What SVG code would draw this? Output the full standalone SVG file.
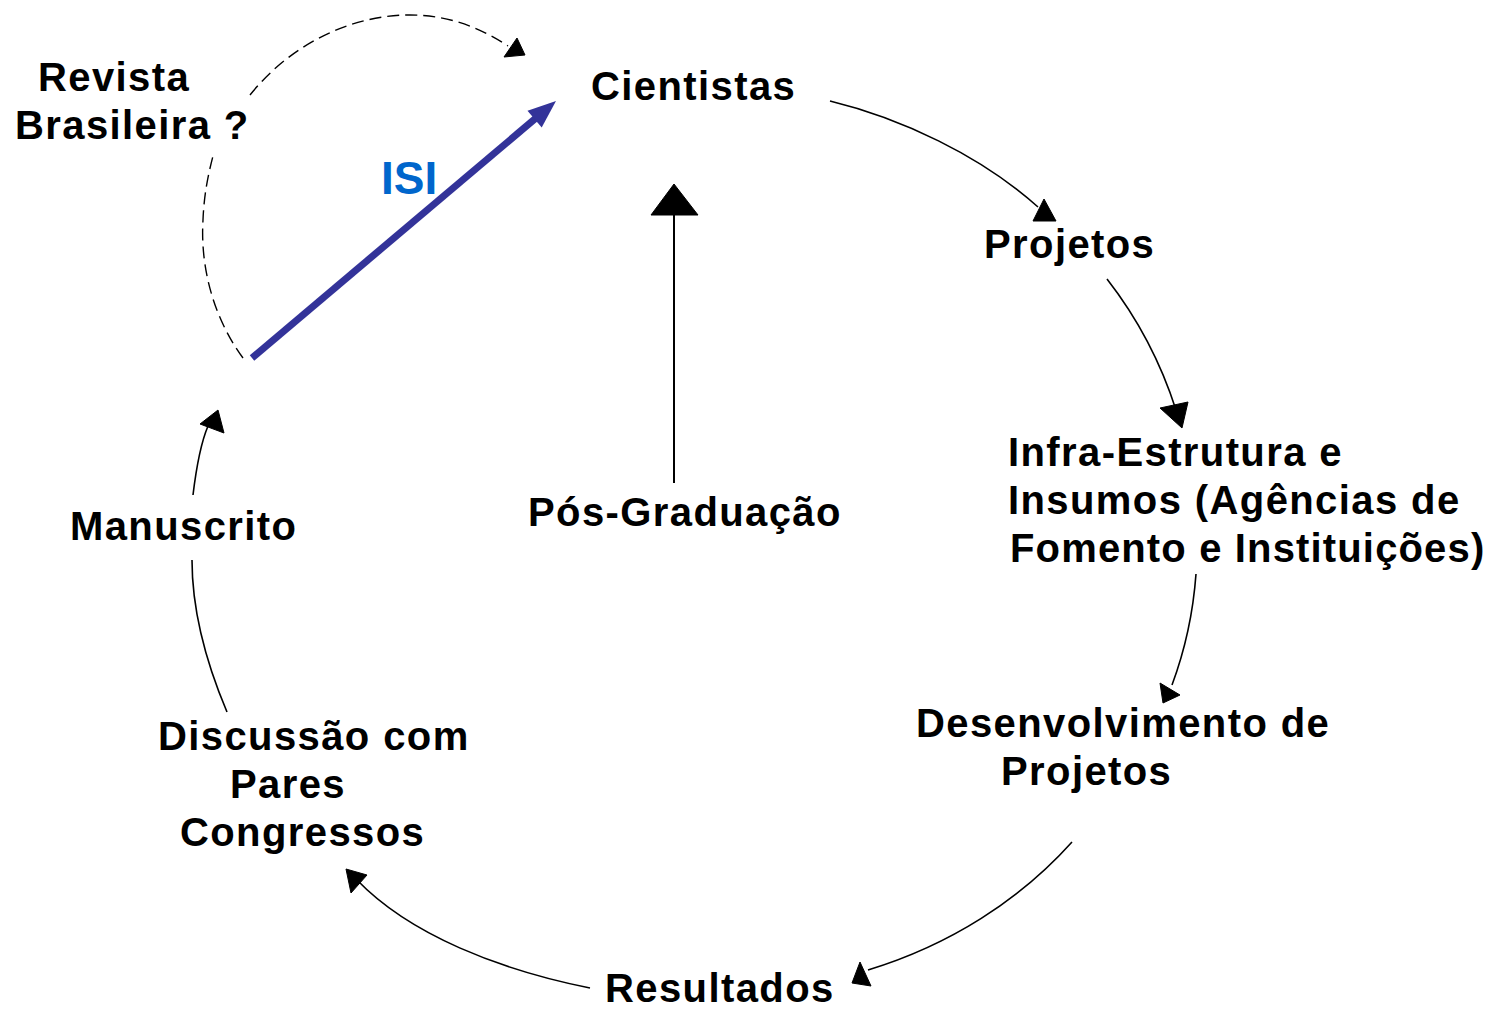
<svg xmlns="http://www.w3.org/2000/svg" width="1491" height="1011" viewBox="0 0 1491 1011">
<style>
.t{font-family:"Liberation Sans",Arial,sans-serif;font-weight:bold;font-size:40px;letter-spacing:1.4px;fill:#000}
.isi{font-family:"Liberation Sans",Arial,sans-serif;font-weight:bold;font-size:46px;fill:#0066CC}
.c{fill:none;stroke:#000;stroke-width:1.6}
.d{fill:none;stroke:#000;stroke-width:1.4;stroke-dasharray:12 6}
.h{fill:#000;stroke:#000;stroke-width:1}
</style>
<rect width="1491" height="1011" fill="#fff"/>
<g id="connectors">
<path class="c" d="M830,101 C900,118 980,155 1038,207"/>
<polygon class="h" points="1044,199 1033,221 1056,221"/>
<path class="c" d="M1107,279 C1135,315 1160,360 1176,410"/>
<polygon class="h" points="1160,408 1188,402 1182,428"/>
<path class="c" d="M1196,574 C1193,615 1185,650 1172,685"/>
<polygon class="h" points="1160,683 1180,695 1163,703"/>
<path class="c" d="M1072,842 C1020,900 950,945 868,970"/>
<polygon class="h" points="860,962 852,983 871,986"/>
<path class="c" d="M590,988 C500,970 410,935 357,880"/>
<polygon class="h" points="346,869 367,875 351,893"/>
<path class="c" d="M227,712 C205,660 192,610 192,560"/>
<path class="c" d="M193,495 C196,470 200,445 208,426"/>
<polygon class="h" points="200,424 218,410 224,433"/>
<path class="d" d="M243,358 C215,320 200,270 203,220 C204,195 208,175 213,156"/>
<path class="d" d="M250,95 C290,45 350,15 410,15 C450,15 480,28 508,46"/>
<polygon class="h" points="504,57 525,55 517,38"/>
<line x1="674" y1="483" x2="674" y2="212" stroke="#000" stroke-width="2"/>
<polygon class="h" points="674,184 651,215 698,215"/>
<line x1="252" y1="358" x2="536" y2="118" stroke="#333399" stroke-width="7"/>
<polygon points="556,101 527.5,110.7 541.7,127.5" fill="#333399"/>
</g>
<g id="revista"><text class="t" x="38" y="91">Revista</text><text class="t" x="15" y="139">Brasileira ?</text></g>
<g id="cientistas"><text class="t" x="591" y="100">Cientistas</text></g>
<g id="isi"><text class="isi" x="381" y="194">ISI</text></g>
<g id="projetos"><text class="t" x="984" y="258">Projetos</text></g>
<g id="infra"><text class="t" x="1008" y="466">Infra-Estrutura e</text><text class="t" x="1008" y="514">Insumos (Agências de</text><text class="t" x="1010" y="562" style="letter-spacing:1.15px">Fomento e Instituições)</text></g>
<g id="posgrad"><text class="t" x="528" y="526">Pós-Graduação</text></g>
<g id="manuscrito"><text class="t" x="70" y="540">Manuscrito</text></g>
<g id="desenvolvimento"><text class="t" x="916" y="737">Desenvolvimento de</text><text class="t" x="1001" y="785">Projetos</text></g>
<g id="discussao"><text class="t" x="158" y="750">Discussão com</text><text class="t" x="230" y="798">Pares</text><text class="t" x="180" y="846">Congressos</text></g>
<g id="resultados"><text class="t" x="605" y="1002">Resultados</text></g>
</svg>
